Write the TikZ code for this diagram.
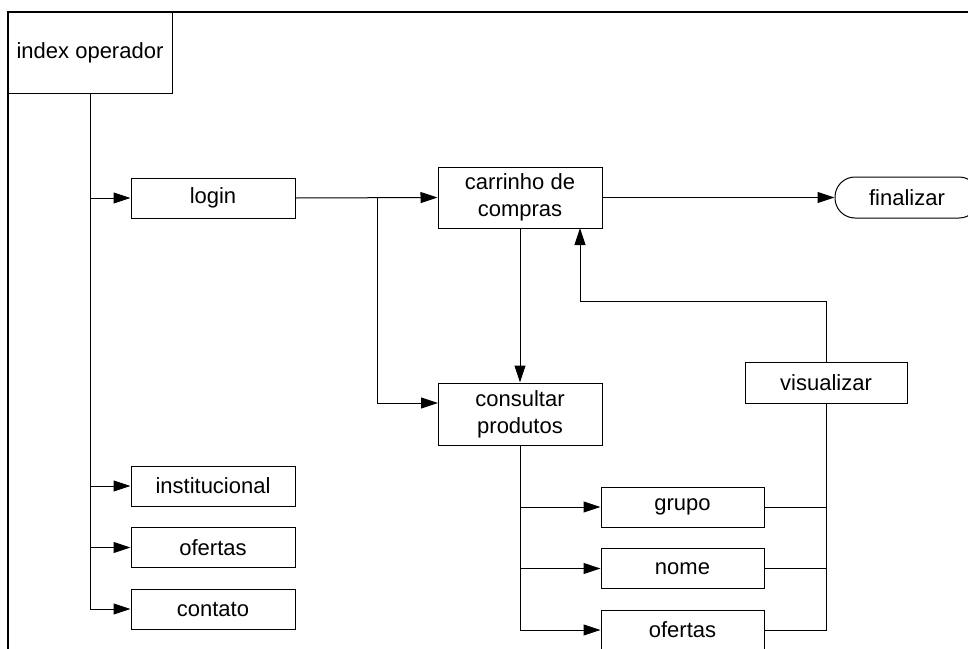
\documentclass[tikz,border=0pt]{standalone}
\usepackage{fontspec}
\setmainfont{Liberation Sans}
\usetikzlibrary{arrows.meta}
\begin{document}
\begin{tikzpicture}[x=1pt,y=-1pt,
  box/.style={draw,line width=1pt,minimum width=164pt,minimum height=40pt,inner sep=0pt,align=center,font=\fontsize{22}{27}\selectfont},
  conn/.style={line width=1pt},
  arr/.style={line width=1pt,-{Triangle[length=17pt,width=11pt]}}]
\clip (0,0) rectangle (968,648);
\draw[line width=2.2pt] (8,660) -- (8,12) -- (980,12);
% nodes
\node[box,minimum height=81pt] (idx) at (90,52.5) {index operador};
\node[box] (login) at (213,198) {login};
\node[box] (inst) at (213,486) {institucional};
\node[box] (of1) at (213,547.5) {ofertas};
\node[box] (cont) at (213,609) {contato};
\node[box,minimum height=61pt] (cart) at (520,197.5) {carrinho de\\compras};
\node[box,minimum height=62pt] (cons) at (520,414) {consultar\\produtos};
\node[box,minimum width=144pt,minimum height=41pt,rounded corners=20pt] (fin) at (907,197.5) {finalizar};
\node[box,minimum width=162pt,minimum height=41pt] (vis) at (826,382.5) {visualizar};
\node[box,minimum width=163pt] (grp) at (682.5,507) {grupo};
\node[box,minimum width=163pt] (nome) at (682.5,568.5) {nome};
\node[box,minimum width=163pt] (of2) at (682.5,630) {ofertas};
% coordinates
\coordinate (j1) at (377,198);
\coordinate (cin) at (438,403);
\coordinate (c1) at (826,301);
\coordinate (c2) at (580,301);
\coordinate (c3) at (580,228);
% connectors
\draw[conn] (idx.south) -- (idx.south |- cont.west);
\draw[arr] (idx.south |- login.west) -- (login.west);
\draw[arr] (idx.south |- inst.west) -- (inst.west);
\draw[arr] (idx.south |- of1.west) -- (of1.west);
\draw[arr] (idx.south |- cont.west) -- (cont.west);
\draw[arr] (login.east) -- (cart.west);
\draw[arr] (j1) |- (cin);
\draw[arr] (cart.south) -- (cons.north);
\draw[arr] (cart.east) -- (fin.west);
\draw[arr] (vis.north) -- (c1) -- (c2) -- (c3);
\draw[conn] (vis.south) |- (of2.east);
\draw[conn] (grp.east) -- (grp.east -| vis.south);
\draw[conn] (nome.east) -- (nome.east -| vis.south);
\draw[conn] (cons.south) -- (cons.south |- of2.west);
\draw[arr] (cons.south |- grp.west) -- (grp.west);
\draw[arr] (cons.south |- nome.west) -- (nome.west);
\draw[arr] (cons.south |- of2.west) -- (of2.west);
\end{tikzpicture}
\end{document}
